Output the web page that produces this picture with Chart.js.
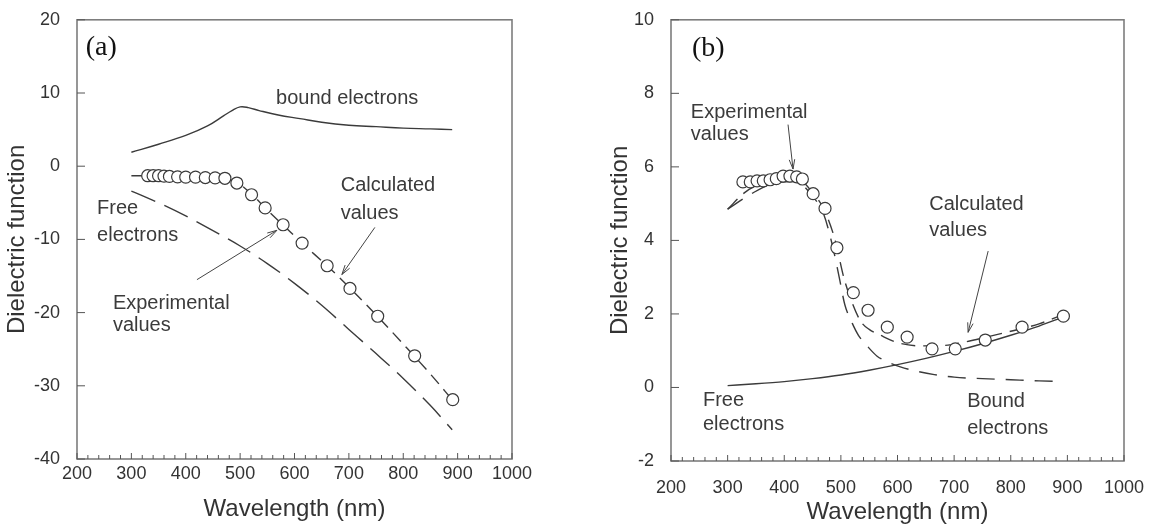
<!DOCTYPE html>
<html>
<head>
<meta charset="utf-8">
<script src="https://cdn.jsdelivr.net/npm/chart.js@4.4.1/dist/chart.umd.min.js"></script>
<style>
  html, body { margin: 0; padding: 0; background: #fff; }
  #wrapA { position: absolute; left: 0; top: 0; width: 576px; height: 529px; }
  #wrapB { position: absolute; left: 590px; top: 0; width: 563px; height: 529px; }
</style>
</head>
<body>
<div id="wrapA"><canvas id="chartA"></canvas></div>
<div id="wrapB"><canvas id="chartB"></canvas></div>
<script>
// ---- panel (a) ----
const wlBoundA  = [300, 350, 400, 440, 470, 485, 500, 515, 535, 570, 610, 650, 700, 750, 800, 850, 890];
const epsBoundA = [1.9, 3.0, 4.2, 5.5, 6.9, 7.6, 8.1, 8.0, 7.6, 7.0, 6.5, 6.0, 5.6, 5.4, 5.2, 5.1, 5.0];

const wlFreeA  = [300, 350, 400, 450, 500, 550, 600, 650, 700, 750, 800, 850, 890];
const epsFreeA = [-3.4, -5.0, -6.8, -8.8, -10.9, -13.3, -16.0, -19.0, -22.3, -25.6, -29.0, -32.7, -36.0];

const wlCalcA  = [300, 350, 400, 450, 480, 500, 525, 550, 580, 615, 660, 700, 750, 800, 850, 890];
const epsCalcA = [-1.3, -1.3, -1.4, -1.5, -1.8, -2.5, -4.1, -6.0, -8.1, -10.6, -13.6, -16.5, -20.3, -24.3, -28.4, -31.9];

const wlExpA  = [330, 340, 350, 360, 370, 385, 400, 418, 436, 454, 472, 494, 521, 546, 579, 614, 660, 702, 753, 821, 891];
const epsExpA = [-1.3, -1.3, -1.3, -1.35, -1.4, -1.45, -1.5, -1.5, -1.55, -1.6, -1.65, -2.3, -3.9, -5.7, -8.0, -10.5, -13.6, -16.7, -20.5, -25.9, -31.9];

// ---- panel (b) ----
const wlFreeB  = [300, 350, 400, 450, 500, 550, 600, 650, 700, 750, 800, 850, 890];
const epsFreeB = [0.05, 0.1, 0.16, 0.24, 0.34, 0.47, 0.62, 0.79, 0.98, 1.19, 1.42, 1.67, 1.9];

const wlBoundB  = [300, 340, 380, 420, 450, 470, 486, 497, 507, 520, 531, 548, 564, 585, 605, 635, 665, 700, 750, 800, 850, 890];
const epsBoundB = [4.85, 5.25, 5.55, 5.6, 5.2, 4.7, 3.8, 3.0, 2.25, 1.75, 1.42, 1.1, 0.85, 0.68, 0.56, 0.44, 0.35, 0.28, 0.24, 0.21, 0.18, 0.16];

const wlCalcB  = [300, 330, 360, 400, 430, 450, 470, 490, 505, 520, 535, 550, 570, 600, 640, 680, 720, 760, 800, 850, 890];
const epsCalcB = [4.85, 5.3, 5.55, 5.7, 5.62, 5.3, 4.85, 4.0, 3.0, 2.3, 1.8, 1.58, 1.42, 1.22, 1.13, 1.14, 1.24, 1.38, 1.53, 1.73, 1.97];

const wlExpB  = [327, 340, 352, 363, 375, 386, 398, 410, 422, 432, 451, 472, 493, 522, 548, 582, 617, 661, 702, 755, 820, 893];
const epsExpB = [5.59, 5.59, 5.62, 5.62, 5.65, 5.68, 5.75, 5.75, 5.73, 5.67, 5.27, 4.87, 3.8, 2.58, 2.1, 1.64, 1.37, 1.05, 1.05, 1.29, 1.64, 1.94];

const ink = '#3b3b3b';
Chart.defaults.font.family = '"Liberation Sans", Arial, sans-serif';
Chart.defaults.color = '#333';

function pts(xs, ys) {
    return xs.map((x, i) => ({ x: x, y: ys[i] }));
}

function lineSet(label, xs, ys, dash, smooth) {
    const ds = {
        label: label,
        data: pts(xs, ys),
        showLine: true,
        borderColor: ink,
        borderWidth: 1.4,
        borderDash: dash,
        pointRadius: 0,
        fill: false
    };
    if (smooth) {
        ds.tension = 0.4; // round peak
    } else {
        ds.cubicInterpolationMode = 'monotone';
    }
    return ds;
}

function dotSet(label, xs, ys) {
    return {
        label: label,
        data: pts(xs, ys),
        showLine: false,
        pointRadius: 6,
        pointBorderWidth: 1.2,
        pointBorderColor: ink,
        pointBackgroundColor: '#fff'
    };
}

// box round the plot + inward ticks
const framePlugin = {
    id: 'frame',
    afterDatasetsDraw(chart) {
        const { ctx, chartArea: a, scales: { x, y } } = chart;
        ctx.save();
        ctx.strokeStyle = '#7d7d7d';
        ctx.lineWidth = 1.6;
        ctx.strokeRect(a.left, a.top, a.right - a.left, a.bottom - a.top);
        ctx.lineWidth = 1;
        ctx.strokeStyle = '#555';
        ctx.beginPath();
        y.ticks.forEach(t => {
            const py = y.getPixelForValue(t.value);
            ctx.moveTo(a.left, py);
            ctx.lineTo(a.left + 8, py);
        });
        for (let v = x.min; v <= x.max; v += 20) {
            const px = x.getPixelForValue(v);
            ctx.moveTo(px, a.bottom);
            ctx.lineTo(px, a.bottom - (v % 100 === 0 ? 6 : 4));
        }
        ctx.stroke();
        ctx.restore();
    }
};

// text labels and arrows, placed in data units
const notesPlugin = {
    id: 'notes',
    afterDraw(chart, args, opts) {
        const { ctx, scales: { x, y } } = chart;
        ctx.save();
        ctx.textBaseline = 'middle';
        ctx.textAlign = 'left';
        opts.texts.forEach(n => {
            ctx.font = n.font || '20px "Liberation Sans", Arial, sans-serif';
            ctx.fillStyle = n.color || ink;
            ctx.fillText(n.text, x.getPixelForValue(n.x), y.getPixelForValue(n.y));
        });
        ctx.strokeStyle = '#444';
        ctx.lineWidth = 1;
        opts.arrows.forEach(([x0, y0, x1, y1]) => {
            const ax = x.getPixelForValue(x0), ay = y.getPixelForValue(y0);
            const bx = x.getPixelForValue(x1), by = y.getPixelForValue(y1);
            const ang = Math.atan2(by - ay, bx - ax);
            ctx.beginPath();
            ctx.moveTo(ax, ay);
            ctx.lineTo(bx, by);
            ctx.moveTo(bx - 10 * Math.cos(ang - 0.28), by - 10 * Math.sin(ang - 0.28));
            ctx.lineTo(bx, by);
            ctx.lineTo(bx - 10 * Math.cos(ang + 0.28), by - 10 * Math.sin(ang + 0.28));
            ctx.stroke();
        });
        ctx.restore();
    }
};

function makeConfig(p) {
    return {
        type: 'scatter',
        data: { datasets: p.datasets },
        options: {
            responsive: true,
            maintainAspectRatio: false,
            animation: false,
            layout: { padding: p.padding },
            plugins: {
                legend: { display: false },
                tooltip: { enabled: false },
                notes: { texts: p.texts, arrows: p.arrows }
            },
            scales: {
                x: {
                    type: 'linear',
                    min: 200,
                    max: 1000,
                    afterFit: s => { s.height = p.xHeight; },
                    border: { display: false },
                    grid: { display: false },
                    ticks: {
                        stepSize: 100,
                        padding: p.xPad,
                        autoSkip: false,
                        maxRotation: 0,
                        font: { size: 18 },
                        callback: v => String(v)
                    },
                    title: {
                        display: true,
                        text: 'Wavelength (nm)',
                        color: '#333',
                        font: { size: 24 },
                        padding: { top: 0, bottom: p.xTitlePad }
                    }
                },
                y: {
                    min: p.yMin,
                    max: p.yMax,
                    afterFit: s => { s.width = p.yWidth; },
                    border: { display: false },
                    grid: { display: false },
                    ticks: {
                        stepSize: p.yStep,
                        padding: 9,
                        font: { size: 18 },
                        callback: v => String(v)
                    },
                    title: {
                        display: true,
                        text: 'Dielectric function',
                        color: '#333',
                        font: { size: 24 },
                        padding: { top: p.yTitlePad, bottom: 0 }
                    }
                }
            }
        },
        plugins: [framePlugin, notesPlugin]
    };
}

const panelA = {
    datasets: [
        dotSet('Experimental values', wlExpA, epsExpA),
        lineSet('Calculated values', wlCalcA, epsCalcA, [12, 7]),
        lineSet('bound electrons', wlBoundA, epsBoundA, [], true),
        lineSet('Free electrons', wlFreeA, epsFreeA, [26, 10])
    ],
    padding: { top: 14, right: 64, bottom: 0, left: 0 },
    xHeight: 70, xPad: -4, xTitlePad: 5,
    yWidth: 77, yTitlePad: 3,
    yMin: -40, yMax: 20, yStep: 10,
    texts: [
        { text: '(a)', x: 216, y: 16.2, font: '28px "Liberation Serif", "Times New Roman", serif', color: '#111' },
        { text: 'bound electrons', x: 566, y: 9.2 },
        { text: 'Free', x: 237, y: -5.8 },
        { text: 'electrons', x: 237, y: -9.4 },
        { text: 'Calculated', x: 685, y: -2.7 },
        { text: 'values', x: 685, y: -6.5 },
        { text: 'Experimental', x: 266, y: -18.7 },
        { text: 'values', x: 266, y: -21.7 }
    ],
    arrows: [
        [420.6, -15.5, 567.6, -8.76],
        [747.8, -8.36, 687.1, -14.8]
    ]
};

const panelB = {
    datasets: [
        dotSet('Experimental values', wlExpB, epsExpB),
        lineSet('Calculated values', wlCalcB, epsCalcB, [14, 8]),
        lineSet('Bound electrons', wlBoundB, epsBoundB, [18, 11]),
        lineSet('Free electrons', wlFreeB, epsFreeB, [])
    ],
    padding: { top: 14, right: 29, bottom: 0, left: 0 },
    xHeight: 68, xPad: 8, xTitlePad: 2,
    yWidth: 81, yTitlePad: 15.6,
    yMin: -2, yMax: 10, yStep: 2,
    texts: [
        { text: '(b)', x: 237, y: 9.22, font: '28px "Liberation Serif", "Times New Roman", serif', color: '#111' },
        { text: 'Experimental', x: 235, y: 7.49 },
        { text: 'values', x: 235, y: 6.89 },
        { text: 'Calculated', x: 656, y: 4.98 },
        { text: 'values', x: 656, y: 4.26 },
        { text: 'Free', x: 256.5, y: -0.35 },
        { text: 'electrons', x: 256.5, y: -1.02 },
        { text: 'Bound', x: 723, y: -0.38 },
        { text: 'electrons', x: 723, y: -1.12 }
    ],
    arrows: [
        [406.7, 7.15, 415.5, 5.94],
        [760.1, 3.71, 724.7, 1.5]
    ]
};

function buildChart(id, panel) {
    const ctx = document.getElementById(id).getContext('2d');
    return new Chart(ctx, makeConfig(panel));
}

buildChart('chartA', panelA);
buildChart('chartB', panelB);
</script>
</body>
</html>
